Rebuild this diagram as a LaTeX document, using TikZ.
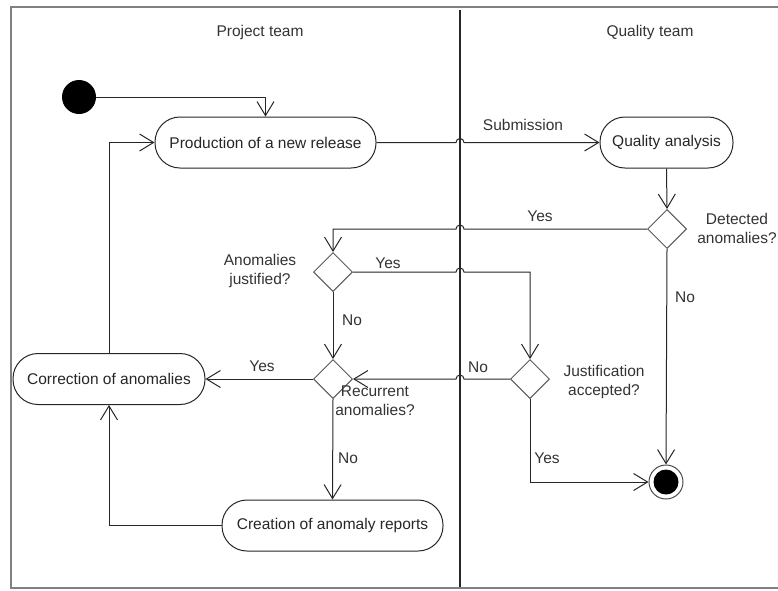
\documentclass[tikz,border=0pt]{standalone}
\usepackage{fontspec}
\setmainfont{Liberation Sans}
\usetikzlibrary{shapes.geometric,arrows.meta}
\begin{document}
\begin{tikzpicture}[x=1pt,y=-1pt,
  act/.style={draw=black!85, line width=1pt, rounded corners=25pt, minimum height=51pt, inner sep=0pt, font=\fontsize{15.5}{18}\selectfont, text=black!85},
  dec/.style={draw=black!65, line width=1pt, diamond, minimum width=39pt, minimum height=39pt, inner sep=0pt},
  lbl/.style={font=\fontsize{15.5}{19}\selectfont, text=black!80, align=center, inner sep=0pt},
  flow/.style={draw=black!85, line width=1pt, -{Straight Barb[length=14pt,width=17pt,line width=1pt]}},
  plain/.style={draw=black!85, line width=1pt},
]
\useasboundingbox (0,0) rectangle (778,590);
% frame
\draw[black!50, line width=2pt] (778,7) -- (11,7) -- (11,588) -- (778,588);
% lane divider
\coordinate (laneT) at (460,10);
\coordinate (laneB) at (460,587);
\draw[plain, line width=1.3pt] (laneT) -- (laneB);
% titles
\node[lbl] (t1) at (260,32) {Project team};
\node[lbl] (t2) at (650,32) {Quality team};
% nodes
\node[circle, fill=black, minimum size=34pt, inner sep=0pt] (init) at (79,97) {};
\node[act, minimum width=221pt] (prod) at (265.5,142.5) {Production of a new release};
\node[act, minimum width=133pt] (qa) at (666.5,142.5) {Quality analysis};
\node[dec] (det) at (667,229) {};
\node[dec] (just) at (333,272) {};
\node[dec] (rec) at (333,379) {};
\node[dec] (acc) at (530,379) {};
\node[act, minimum width=192pt] (corr) at (109,379) {Correction of anomalies};
\node[act, minimum width=221pt] (crea) at (332.5,525.5) {Creation of anomaly reports};
\node[circle, draw=black!70, line width=1pt, minimum size=34pt, inner sep=0pt] (fin) at (666,482) {};
\node[circle, fill=black, minimum size=25pt, inner sep=0pt] (finin) at (fin.center) {};
% labels
\node[lbl] (ldet) at (737,228) {Detected\\anomalies?};
\node[lbl] (ljust) at (260,271) {Anomalies\\justified?};
\node[lbl] (lrec) at (375,401) {Recurrent\\anomalies?};
\node[lbl] (lacc) at (604,382) {Justification\\accepted?};
\node[lbl] (lsub) at (523,125) {Submission};
\node[lbl] (y1) at (540,216) {Yes};
\node[lbl] (y2) at (388,263) {Yes};
\node[lbl] (n1) at (352,320) {No};
\node[lbl] (y3) at (262,366) {Yes};
\node[lbl] (n2) at (478,367) {No};
\node[lbl] (n3) at (348,458) {No};
\node[lbl] (y4) at (547,458) {Yes};
\node[lbl] (n4) at (685,297) {No};
% connectors
\draw[flow] (init.east) -| (prod.north);
\draw[flow] (corr.north) |- (prod.west);
\draw[flow] (prod.east) -- ([xshift=-4pt]laneT |- prod.east) arc[start angle=180, end angle=0, radius=4pt] -- (qa.west);
\draw[flow] (qa.south) -- (det.north);
\draw[flow] (det.west) -- ([xshift=4pt]laneT |- det.west) arc[start angle=0, end angle=180, radius=4pt] -| (just.north);
\draw[flow] (just.east) -- ([xshift=-4pt]laneT |- just.east) arc[start angle=180, end angle=0, radius=4pt] -| (acc.north);
\draw[flow] (just.south) -- (rec.north);
\draw[flow] (acc.west) -- ([xshift=4pt]laneT |- acc.west) arc[start angle=0, end angle=180, radius=4pt] -- (rec.east);
\draw[flow] (rec.west) -- (corr.east);
\draw[flow] (rec.south) -- (crea.north);
\draw[flow] (crea.west) -| (corr.south);
\draw[flow] (det.south) -- (fin.north);
\draw[flow] (acc.south) |- (fin.west);
\end{tikzpicture}
\end{document}
